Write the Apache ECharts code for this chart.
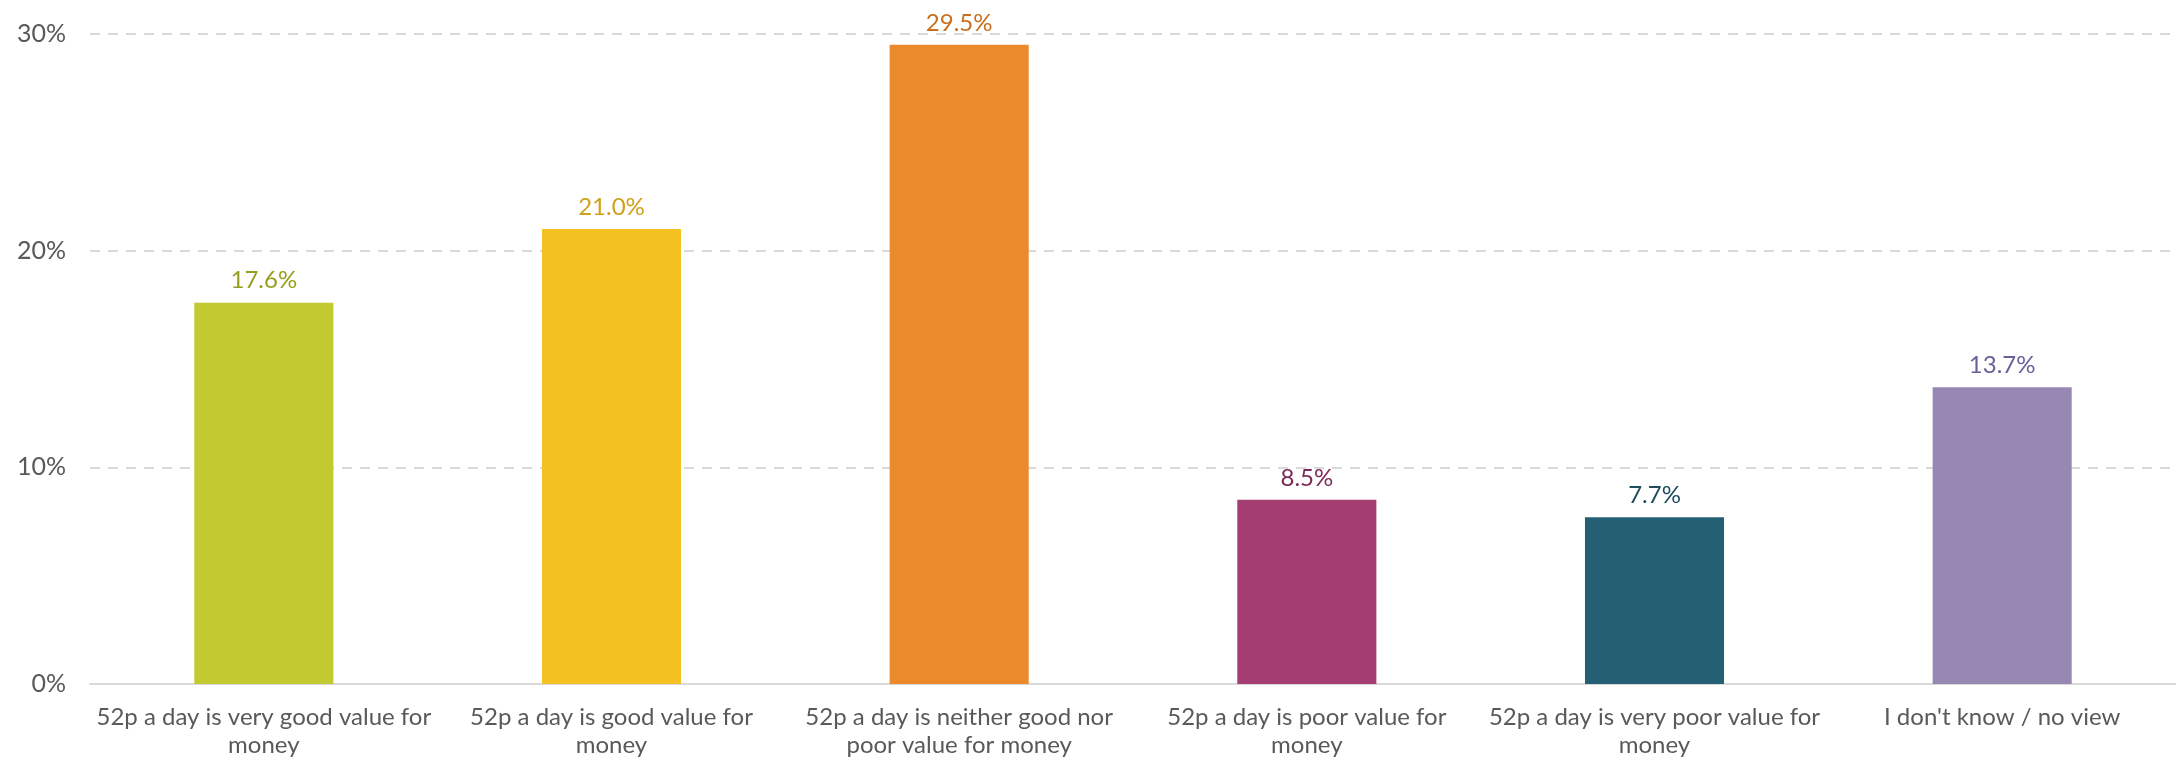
<!DOCTYPE html>
<html>
<head>
<meta charset="utf-8">
<script src="https://cdn.jsdelivr.net/npm/echarts@6/dist/echarts.min.js"></script>
<style>
  html, body { margin: 0; padding: 0; background: #fff; }
  #main { width: 2176px; height: 759px; }
</style>
</head>
<body>
<div id="main"></div>
<script>
// categories, values and colours
var categories = [
    '52p a day is very good value for\nmoney',
    '52p a day is good value for\nmoney',
    '52p a day is neither good nor\npoor value for money',
    '52p a day is poor value for\nmoney',
    '52p a day is very poor value for\nmoney',
    "I don't know / no view"
];
var values = [17.6, 21.0, 29.5, 8.5, 7.7, 13.7];
var barColors = ['#C3C930', '#F3C122', '#EA8A2D', '#A43D72', '#245F74', '#9688B2'];
var labelColors = ['#97A01E', '#CFA11A', '#C86F1D', '#7E2A58', '#1F4C5E', '#6B5E99'];
var yTicks = [0, 10, 20, 30];

var data = [];
for (var i = 0; i < values.length; i++) {
    data.push({
        value: values[i],
        itemStyle: { color: barColors[i] },
        label: { color: labelColors[i] }
    });
}

var myChart = echarts.init(document.getElementById('main'));
var option = {
    animation: false,
    textStyle: { fontFamily: 'Lato' },
    grid: { left: 90, right: 0, top: 34, bottom: 72, containLabel: false },
    xAxis: {
        type: 'category',
        data: categories,
        axisTick: { show: false },
        axisLine: { lineStyle: { color: '#D9D9D9', width: 2 } },
        axisLabel: {
            interval: 0,
            color: '#595959',
            fontSize: 24,
            lineHeight: 28,
            margin: 19,
            fontFamily: 'Lato'
        }
    },
    yAxis: {
        type: 'value',
        min: yTicks[0],
        max: yTicks[yTicks.length - 1],
        interval: 10,
        axisLine: { show: false },
        axisTick: { show: false },
        axisLabel: {
            formatter: '{value}%',
            color: '#595959',
            fontSize: 25,
            margin: 24,
            fontFamily: 'Lato'
        },
        splitLine: { lineStyle: { color: '#D9D9D9', width: 2, type: [10, 8] } }
    },
    series: [{
        type: 'bar',
        data: data,
        barWidth: '40%',
        label: {
            show: true,
            position: 'top',
            distance: 10,
            fontSize: 24,
            fontFamily: 'Lato',
            formatter: function (p) { return p.value.toFixed(1) + '%'; }
        }
    }]
};
myChart.setOption(option);
</script>
</body>
</html>
